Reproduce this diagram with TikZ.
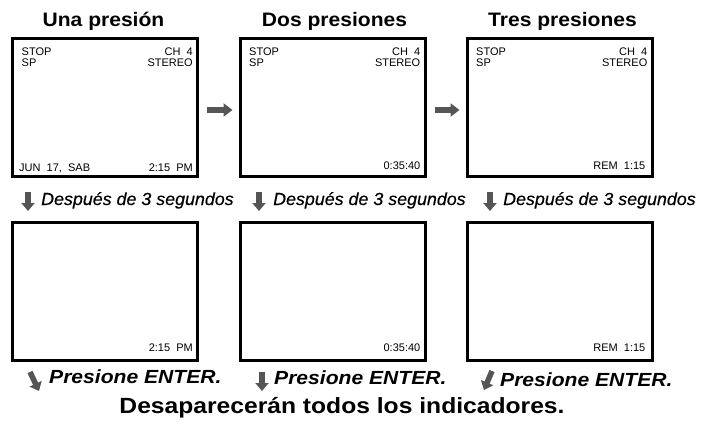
\documentclass[tikz,border=0pt]{standalone}
\usepackage{fontspec}
\setmainfont{Liberation Sans}
\newfontfamily\fA[FakeStretch=1.08]{Liberation Sans}
\newfontfamily\fC[FakeStretch=1.02,FakeBold=0.4]{Liberation Sans}
\newfontfamily\fB[FakeStretch=1.11]{Liberation Sans}
\newfontfamily\fD[FakeStretch=1.12]{Liberation Sans}
\usetikzlibrary{arrows.meta}
\definecolor{arrgray}{HTML}{555555}
\tikzset{
  ttl/.style={font=\fA\bfseries\fontsize{19.5}{23}\selectfont, anchor=base, inner sep=0pt},
  scr/.style={draw, line width=3pt, minimum width=185pt, minimum height=138pt, inner sep=0pt},
  st/.style={font=\fontsize{11}{13}\selectfont, inner sep=0pt},
  lab/.style={font=\fC\itshape\fontsize{17.5}{20}\selectfont, anchor=base west, inner sep=0pt},
  ent/.style={font=\fB\bfseries\itshape\fontsize{19}{22}\selectfont, anchor=base west, inner sep=0pt},
  foot/.style={font=\fD\bfseries\fontsize{22}{26}\selectfont, anchor=base, inner sep=0pt},
  rarr/.style={draw=arrgray, line width=6pt, -{Triangle[length=9pt,width=13pt]}},
  darr/.style={draw=arrgray, line width=5.5pt, -{Triangle[length=8pt,width=13pt]}}
}
\begin{document}
\begin{tikzpicture}[x=1pt,y=-1pt]
\path[use as bounding box] (0,0) rectangle (701,423);
% titles
\node[ttl] (t1) at (103.5,27) {Una presión};
\node[ttl] (t2) at (334.5,27) {Dos presiones};
\node[ttl] (t3) at (562.5,27) {Tres presiones};
% top screens
\node[scr] (s1) at (105,107.5) {};
\node[scr] (s2) at (332.5,107.5) {};
\node[scr] (s3) at (559.5,107.5) {};
\foreach \s in {s1,s2,s3}{
  \node[st, anchor=base west] (\s stop) at ([shift={(10.5,18)}]\s.north west) {STOP};
  \node[st, anchor=base west] (\s sp) at ([shift={(10.5,29)}]\s.north west) {SP};
  \node[st, anchor=base east] (\s ch) at ([shift={(-6,18)}]\s.north east) {CH\ \ 4};
  \node[st, anchor=base east] (\s ster) at ([shift={(-6,29)}]\s.north east) {STEREO};
}
\node[st, anchor=base west] (jun) at ([shift={(8,-7)}]s1.south west) {JUN\ \ 17,\ \ SAB};
\node[st, anchor=base east] (pm1) at ([shift={(-6,-7)}]s1.south east) {2:15\ \ PM};
\node[st, anchor=base east] (tm2) at ([shift={(-6,-9)}]s2.south east) {0:35:40};
\node[st, anchor=base east] (rem3) at ([shift={(-8,-9)}]s3.south east) {REM\ \ 1:15};
% right arrows
\draw[rarr] ([xshift=8pt,yshift=-2.5pt]s1.east) -- ([xshift=-6pt,yshift=-2.5pt]s2.west);
\draw[rarr] ([xshift=8pt,yshift=-2.5pt]s2.east) -- ([xshift=-6pt,yshift=-2.5pt]s3.west);
% down arrows and labels
\coordinate (d1a) at (28,192); \coordinate (d1b) at (28,211);
\coordinate (d2a) at (259,192); \coordinate (d2b) at (259,211);
\coordinate (d3a) at (490,192); \coordinate (d3b) at (490,211);
\draw[darr] (d1a) -- (d1b);
\draw[darr] (d2a) -- (d2b);
\draw[darr] (d3a) -- (d3b);
\node[lab] (dl1) at (41,205) {Después de 3 segundos};
\node[lab] (dl2) at (273,205) {Después de 3 segundos};
\node[lab] (dl3) at (503,205) {Después de 3 segundos};
% lower screens
\node[scr] (l1) at (105,291) {};
\node[scr] (l2) at (332.5,291) {};
\node[scr] (l3) at (559.5,291) {};
\node[st, anchor=base east] (lpm1) at ([shift={(-6,-10)}]l1.south east) {2:15\ \ PM};
\node[st, anchor=base east] (ltm2) at ([shift={(-6,-10)}]l2.south east) {0:35:40};
\node[st, anchor=base east] (lrem3) at ([shift={(-8,-10)}]l3.south east) {REM\ \ 1:15};
% enter arrows and labels
\coordinate (e1a) at (30,372); \coordinate (e1b) at (39,391);
\coordinate (e2a) at (262,372); \coordinate (e2b) at (262,391);
\coordinate (e3a) at (492,371); \coordinate (e3b) at (484,390);
\draw[darr] (e1a) -- (e1b);
\draw[darr] (e2a) -- (e2b);
\draw[darr] (e3a) -- (e3b);
\node[ent] (en1) at (49,383) {Presione ENTER.};
\node[ent] (en2) at (274,384) {Presione ENTER.};
\node[ent] (en3) at (500,386) {Presione ENTER.};
% footer
\node[foot] (ft) at (342,413) {Desaparecerán todos los indicadores.};
\end{tikzpicture}
\end{document}
